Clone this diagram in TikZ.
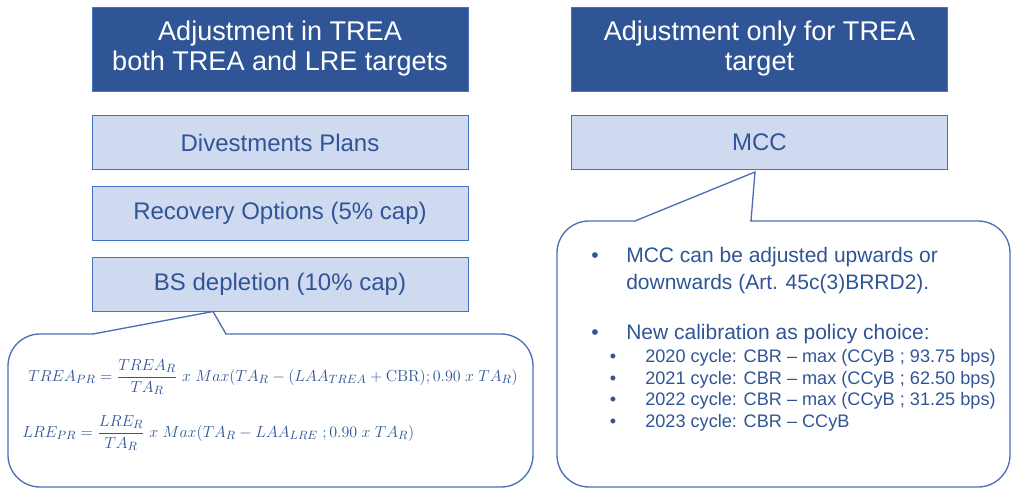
\documentclass[tikz,border=0pt]{standalone}
\usepackage{amsmath}
\usepackage[no-math]{fontspec}
\setmainfont{Liberation Sans}
\usetikzlibrary{positioning}
\definecolor{darkBlue}{HTML}{2F5597}
\definecolor{paleBlue}{HTML}{CFDAF0}
\definecolor{edgeBlue}{HTML}{4472C4}
\definecolor{lineBlue}{HTML}{4A70B5}
\tikzset{
  headbox/.style={rectangle, fill=darkBlue, draw=edgeBlue, line width=0.6pt, text=white, align=center, minimum width=282pt, minimum height=63pt, font=\fontsize{20.3}{22.5}\selectfont},
  itembox/.style={rectangle, fill=paleBlue, draw=edgeBlue, line width=0.75pt, text=darkBlue, minimum width=282pt, minimum height=40pt, font=\fontsize{18}{20}\selectfont},
  calloutbox/.style={rectangle, draw=lineBlue, line width=1pt, rounded corners=24pt},
  pointer/.style={draw=lineBlue, line width=1pt, line join=miter},
  formula/.style={text=darkBlue, anchor=west, inner sep=0pt, font=\fontsize{12.7}{15}\selectfont},
  bigitem/.style={text=darkBlue, anchor=base west, inner sep=0pt, font=\fontsize{15.75}{18.75}\selectfont},
  smallitem/.style={text=darkBlue, anchor=base west, inner sep=0pt, font=\fontsize{13.6}{16}\selectfont},
}

\begin{document}
\begin{tikzpicture}[x=0.75pt, y=-0.75pt]
	\useasboundingbox (0,0) rectangle (1011,488);

	% left column
	\node[headbox](leftHead) at (280,49){Adjustment in TREA\\both TREA and LRE targets};
	\node[itembox](divestBox) at (280,142.5){Divestments Plans};
	\node[itembox](recoveryBox) at (280,213.5){Recovery Options (5\% cap)};
	\node[itembox](depletionBox) at (280,284.5){BS depletion (10\% cap)};

	% right column
	\node[headbox](rightHead) at (759.5,49){Adjustment only for TREA\\target};
	\node[itembox](mccBox) at (759.5,142.5){MCC};

	% callouts
	\node[calloutbox, minimum width=393.75pt, minimum height=114.75pt](formulaBox) at (270.5,410.5){};
	\draw[white, line width=2pt] (94,334) -- (225,334);
	\draw[pointer] (93,334) -- (213,311.5) -- (226,334);

	\node[calloutbox, minimum width=339.75pt, minimum height=199.5pt](mccNote) at (783.5,354){};
	\draw[white, line width=2pt] (636,221) -- (750,221);
	\draw[pointer] (635,221) -- (755,172) -- (751,221);

	% formulas
	\node[formula](treaEq) at (28,377){$\displaystyle TREA_{PR} = \frac{TREA_R}{TA_R}\; x\; Max(TA_R - (LAA_{TREA} + \mathrm{CBR}); 0.90\; x\; TA_R)$};
	\node[formula](lreEq) at (22,433){$\displaystyle LRE_{PR} = \frac{LRE_R}{TA_R}\; x\; Max(TA_R - LAA_{LRE}\; ; 0.90\; x\; TA_R)$};

	% bullets
	\node[bigitem, anchor=base](dotA) at (595,263){•};
	\node[bigitem](mccLineA) at (626,263){MCC can be adjusted upwards or};
	\node[bigitem](mccLineB) at (626,290){downwards (Art. 45c(3)BRRD2).};
	\node[bigitem, anchor=base](dotB) at (595,340){•};
	\node[bigitem](calibLine) at (626,340){New calibration as policy choice:};
	\node[smallitem, anchor=base](dotC) at (613,363){•};
	\node[smallitem](cycleA) at (645,363){2020 cycle: CBR – max (CCyB ; 93.75 bps)};
	\node[smallitem, anchor=base](dotD) at (613,384.5){•};
	\node[smallitem](cycleB) at (645,384.5){2021 cycle: CBR – max (CCyB ; 62.50 bps)};
	\node[smallitem, anchor=base](dotE) at (613,406){•};
	\node[smallitem](cycleC) at (645,406){2022 cycle: CBR – max (CCyB ; 31.25 bps)};
	\node[smallitem, anchor=base](dotF) at (613,427.5){•};
	\node[smallitem](cycleD) at (645,427.5){2023 cycle: CBR – CCyB};
\end{tikzpicture}
\end{document}
